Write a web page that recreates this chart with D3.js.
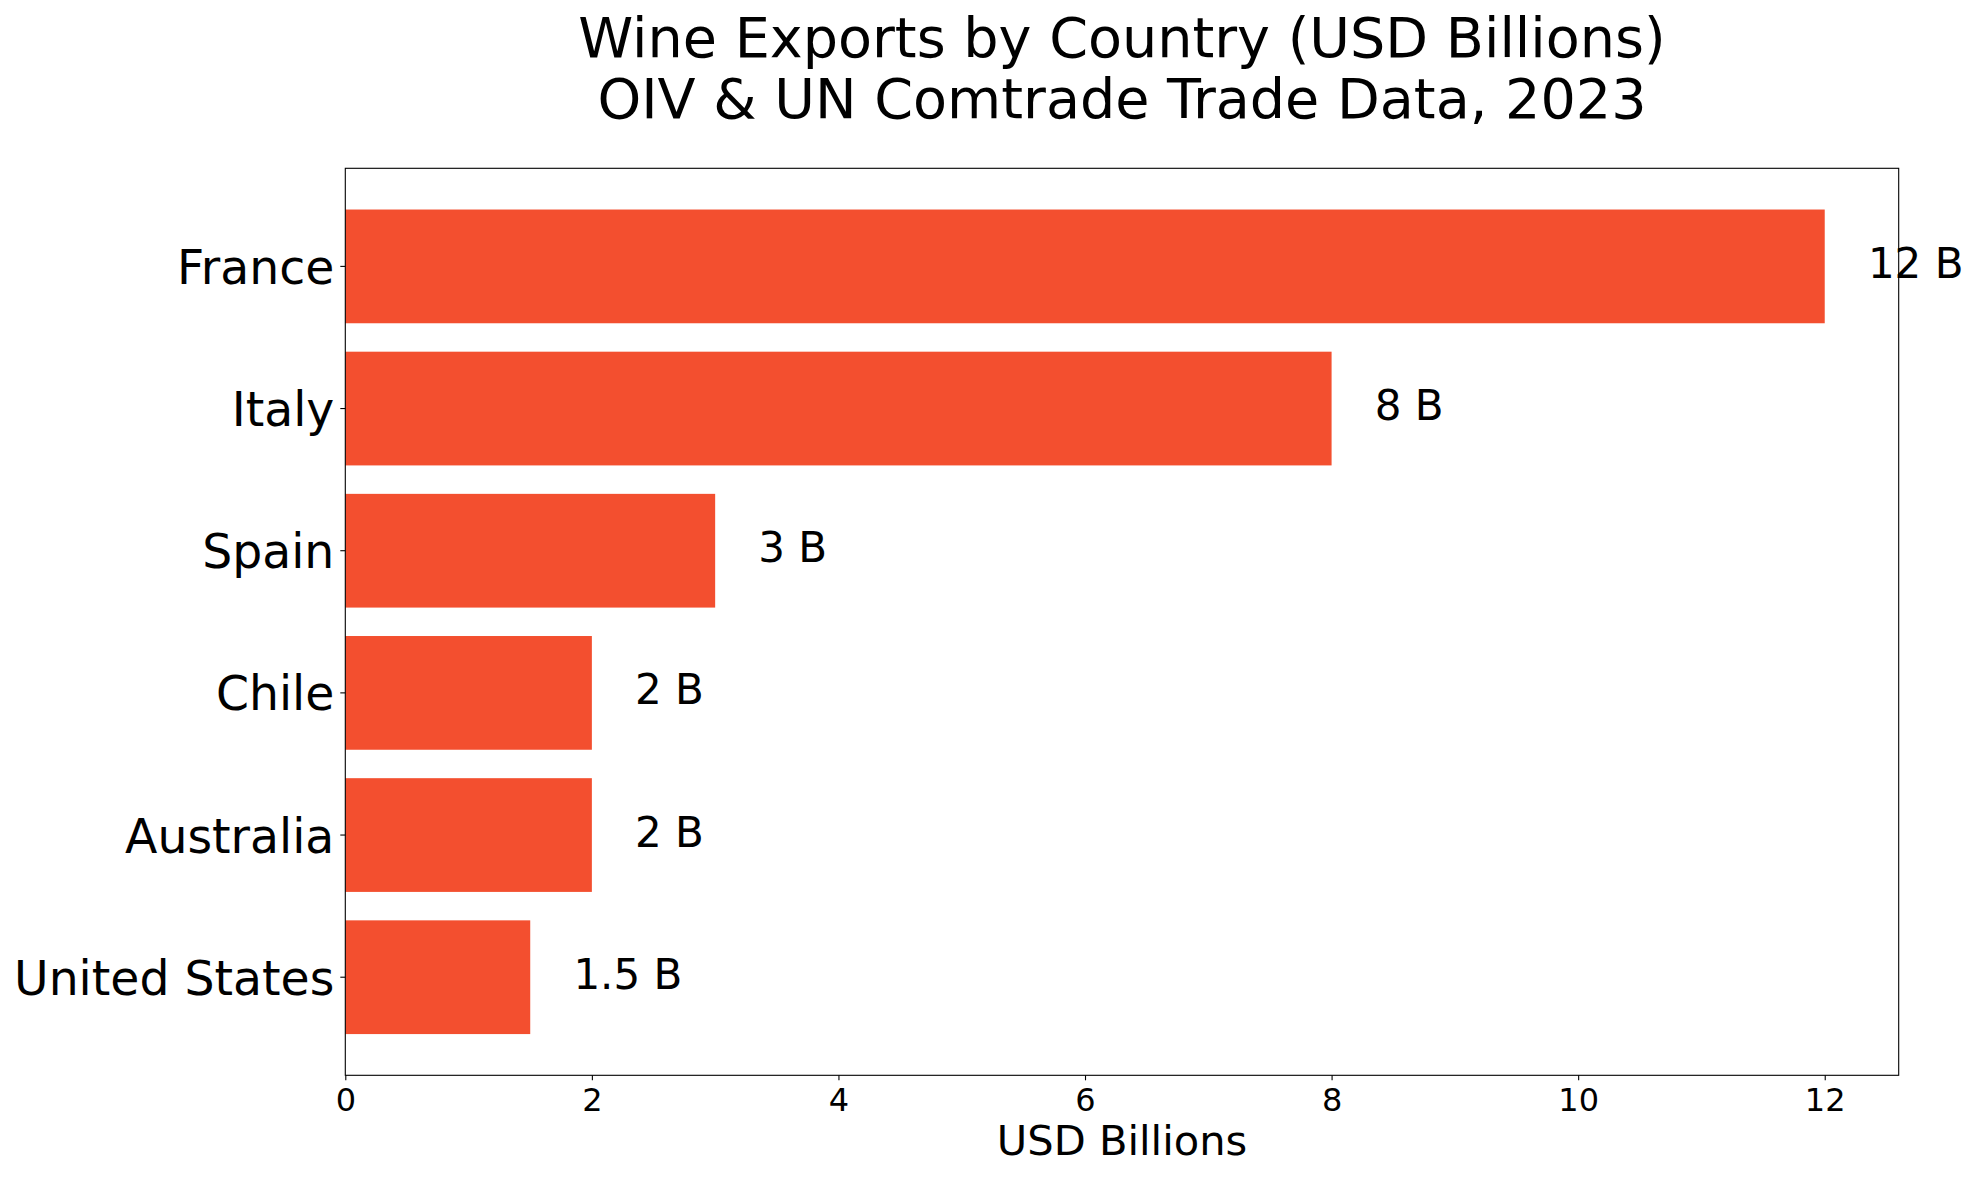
<!DOCTYPE html>
<html>
<head>
<meta charset="utf-8">
<script src="https://cdn.jsdelivr.net/npm/d3@7"></script>
<style>
  body { margin: 0; background: #fff; }
  svg text { font-family: "DejaVu Sans", sans-serif; fill: #000; }
</style>
</head>
<body>
<div id="chart"></div>
<script>
// data
var countries = ["France", "Italy", "Spain", "Chile", "Australia", "United States"];
var exportValues = [12, 8, 3, 2, 2, 1.5];
var valueLabels = ["12 B", "8 B", "3 B", "2 B", "2 B", "1.5 B"];
var xTicks = [0, 2, 4, 6, 8, 10, 12];

var W = 1979, H = 1180;
var plotLeft = 345.3, plotTop = 168.3, plotRight = 1898.7, plotBottom = 1075.3;

var svg = d3.select("#chart").append("svg")
    .attr("width", W)
    .attr("height", H);

var x = d3.scaleLinear()
    .domain([0, d3.max(exportValues) * 1.05])
    .range([plotLeft, plotRight]);

var y = d3.scaleBand()
    .domain(countries)
    .range([plotTop, plotBottom])
    .paddingInner(0.2)
    .paddingOuter(0.29);

// bars
svg.selectAll("rect.bar")
    .data(exportValues)
    .enter()
    .append("rect")
    .attr("class", "bar")
    .attr("x", x(0))
    .attr("y", function(d, i) { return y(countries[i]); })
    .attr("width", function(d) { return x(d) - x(0); })
    .attr("height", y.bandwidth())
    .attr("fill", "#f34f2f");

// value labels
svg.selectAll("text.val")
    .data(exportValues)
    .enter()
    .append("text")
    .attr("class", "val")
    .attr("x", function(d) { return x(d + 0.35); })
    .attr("y", function(d, i) { return y(countries[i]) + y.bandwidth() / 2 + 11.5; })
    .style("font-size", "42px")
    .text(function(d, i) { return valueLabels[i]; });

// axes
var xAxis = svg.append("g")
    .attr("transform", "translate(0," + plotBottom + ")")
    .call(d3.axisBottom(x).tickValues(xTicks).tickSize(5).tickPadding(8).tickFormat(d3.format("d")));
xAxis.selectAll("text").style("font-size", "32px");

var yAxis = svg.append("g")
    .attr("transform", "translate(" + plotLeft + ",0)")
    .call(d3.axisLeft(y).tickSize(5).tickPadding(6));
yAxis.selectAll("text").style("font-size", "47.3px").attr("dy", "0.37em");

svg.selectAll(".domain").remove();
svg.selectAll(".tick line").attr("stroke", "#000").attr("stroke-width", 1.1);

// frame
svg.append("rect")
    .attr("x", plotLeft)
    .attr("y", plotTop)
    .attr("width", plotRight - plotLeft)
    .attr("height", plotBottom - plotTop)
    .attr("fill", "none")
    .attr("stroke", "#000")
    .attr("stroke-width", 1.1);

// x label
svg.append("text")
    .attr("x", (plotLeft + plotRight) / 2)
    .attr("y", 1155)
    .attr("text-anchor", "middle")
    .style("font-size", "41.6px")
    .text("USD Billions");

// title
var title = svg.append("text")
    .attr("text-anchor", "middle")
    .style("font-size", "55.6px");
title.append("tspan").attr("x", (plotLeft + plotRight) / 2).attr("y", 57).text("Wine Exports by Country (USD Billions)");
title.append("tspan").attr("x", (plotLeft + plotRight) / 2).attr("y", 117.5).text("OIV & UN Comtrade Trade Data, 2023");
</script>
</body>
</html>
